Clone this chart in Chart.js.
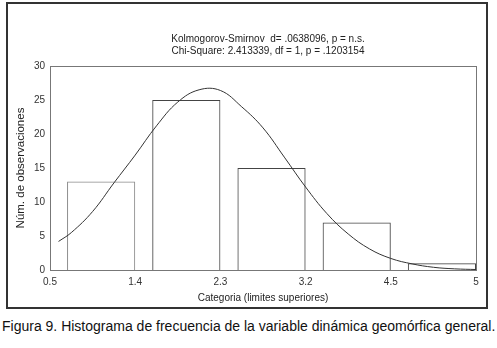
<!DOCTYPE html>
<html>
<head>
<meta charset="utf-8">
<script src="https://cdn.jsdelivr.net/npm/chart.js@4.4.1/dist/chart.umd.min.js"></script>
<style>
  html, body { margin: 0; padding: 0; background: #fff; }
  body { width: 497px; height: 348px; position: relative; overflow: hidden; font-family: "Liberation Sans", Arial, sans-serif; }
  #box { position: absolute; left: 6px; top: 2px; width: 478px; height: 303px; border: 2px solid #333; }
  #box canvas { display: block; }
  #caption { position: absolute; left: 2px; top: 318px; font-size: 14px; color: #111; white-space: nowrap; }
</style>
</head>
<body>
<div id="box"><canvas id="c" width="478" height="303"></canvas></div>
<div id="caption">Figura 9. Histograma de frecuencia de la variable dinámica geomórfica general.</div>
<script>
// ---- data ----
const boundaryLabels = ['0.5', '1.4', '2.3', '3.2', '4.5', '5'];
const counts = [13, 25, 15, 7, 1];
const curveX = [0.1, 0.25, 0.5, 0.75, 1.0, 1.25, 1.5, 1.75, 2.0, 2.25, 2.5, 2.75, 3.0, 3.25, 3.5, 3.75, 4.0, 4.25, 4.5, 4.75, 5.0];
const curveY = [4.2, 5.5, 8.6, 12.8, 16.9, 21.2, 24.7, 26.5, 26.4, 24.0, 20.9, 16.6, 12.2, 8.3, 5.3, 3.1, 1.7, 0.9, 0.4, 0.17, 0.07];
const titleLines = ['Kolmogorov-Smirnov  d= .0638096, p = n.s.', 'Chi-Square: 2.413339, df = 1, p = .1203154'];
const yTitle = 'Núm. de observaciones';
const xTitle = 'Categoria (limites superiores)';

const barFrac = 0.8;
const barData = counts.map((v, i) => ({ x: i + 1 - barFrac / 2, y: v }));
const curveData = curveX.map((x, i) => ({ x: x, y: curveY[i] }));
const barBorders = counts.map((v, i) => i === 0 ? '#8a8a8a' : '#444');

const framePlugin = {
  id: 'frame',
  beforeDatasetsDraw(chart) {
    const a = chart.chartArea, ctx = chart.ctx;
    ctx.save();
    ctx.strokeStyle = '#777';
    ctx.lineWidth = 1;
    ctx.strokeRect(Math.round(a.left) + 0.5, Math.round(a.top) + 0.5, Math.round(a.right - a.left), Math.round(a.bottom - a.top));
    ctx.restore();
  },
  afterDraw(chart) {
    const ctx = chart.ctx;
    ctx.save();
    ctx.fillStyle = '#222';
    ctx.font = '10px "Liberation Sans", Arial, sans-serif';
    ctx.textAlign = 'center';
    ctx.textBaseline = 'middle';
    ctx.fillText(titleLines[0], 260, 35);
    ctx.fillText(titleLines[1], 260, 47.5);
    ctx.restore();
  }
};

new Chart(document.getElementById('c'), {
  type: 'bar',
  data: {
    datasets: [
      {
        type: 'line',
        data: curveData,
        borderColor: '#333',
        borderWidth: 1,
        pointRadius: 0,
        fill: false,
        tension: 0.4,
        order: 0
      },
      {
        type: 'bar',
        data: barData,
        backgroundColor: 'rgba(0,0,0,0)',
        borderColor: barBorders,
        borderWidth: 1,
        barPercentage: barFrac,
        categoryPercentage: 1,
        order: 1
      }
    ]
  },
  options: {
    responsive: false,
    animation: false,
    devicePixelRatio: 1,
    layout: { padding: { left: 0, right: 10, top: 62, bottom: 0 } },
    plugins: { legend: { display: false }, tooltip: { enabled: false }, title: { display: false } },
    scales: {
      x: {
        type: 'linear',
        min: 0, max: 5,
        offset: false,
        grid: { display: false, drawTicks: false },
        border: { display: false },
        ticks: {
          stepSize: 1,
          padding: 6,
          autoSkip: false,
          maxRotation: 0,
          color: '#333',
          font: { family: '"Liberation Sans", Arial, sans-serif', size: 10 },
          callback: (v) => boundaryLabels[v] !== undefined ? boundaryLabels[v] : ''
        },
        title: {
          display: true, text: xTitle, color: '#222',
          font: { family: '"Liberation Sans", Arial, sans-serif', size: 10 },
          padding: { top: 4, bottom: 3 }
        },
        afterFit(s) { s.height = 37; }
      },
      y: {
        min: 0, max: 30,
        grid: { display: false, drawTicks: false },
        border: { display: false },
        ticks: {
          stepSize: 5,
          padding: 5,
          color: '#333',
          font: { family: '"Liberation Sans", Arial, sans-serif', size: 10 }
        },
        title: {
          display: true, text: yTitle, color: '#222',
          font: { family: '"Liberation Sans", Arial, sans-serif', size: 11.5 },
          padding: { top: 6, bottom: 0 }
        },
        afterFit(s) { s.width = 42; }
      }
    }
  },
  plugins: [framePlugin]
});
</script>
</body>
</html>
